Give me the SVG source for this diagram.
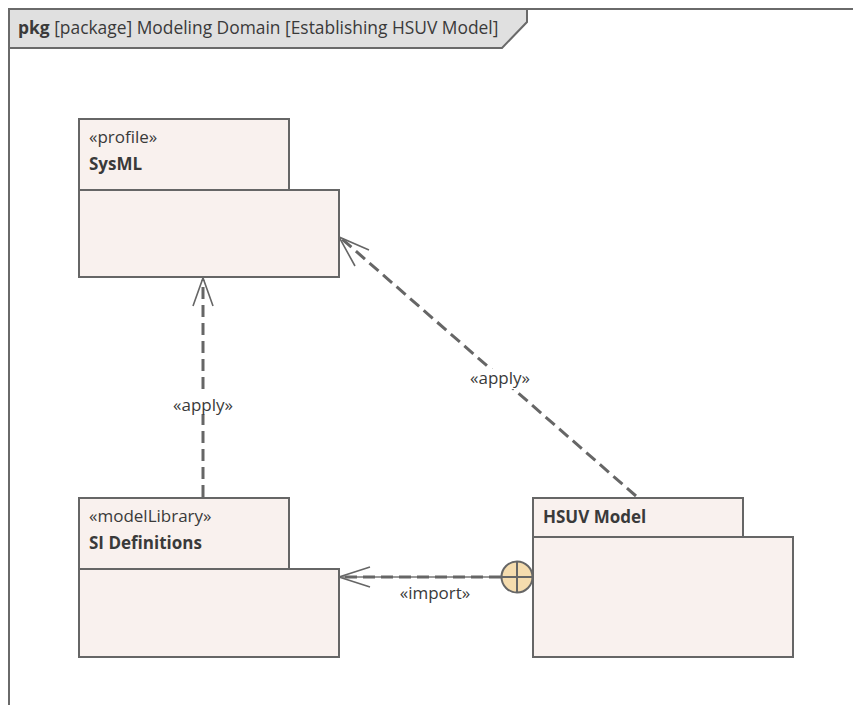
<svg xmlns="http://www.w3.org/2000/svg" width="853" height="705" viewBox="0 0 853 705">
<style>
.frame{fill:none;stroke:#6a6a6a;stroke-width:2}
.tab{fill:#e0e0e0;stroke:#6a6a6a;stroke-width:2}
.pk{fill:#f9f1ee;stroke:#666;stroke-width:2}
.t{font-family:"Open Sans","Noto Sans",sans-serif;font-size:17px;fill:#3a3a3a}
.hd{font-size:17.4px}
.b{font-weight:bold}
.dash{fill:none;stroke:#666;stroke-width:3;stroke-dasharray:12 6}
.thin{fill:none;stroke:#777;stroke-width:1.3}
.head{fill:none;stroke:#666;stroke-width:1.6}
.bg{fill:#ffffff}
</style>
<rect width="853" height="705" fill="#ffffff"/>
<g id="frame">
<path class="frame" d="M9,705 V9 H853"/>
<polygon class="tab" points="9,9 527,9 527,22 502,48 9,48"/>
<text class="t hd" x="18" y="34"><tspan class="b">pkg</tspan> [package] Modeling Domain [Establishing HSUV Model]</text>
</g>
<g id="connectors">
<g id="apply1">
<line class="dash" x1="203" y1="497" x2="203" y2="280"/>
<path class="head" d="M193,306 L203,278 L213,306"/>
<rect class="bg" x="172" y="393" width="62" height="21"/>
<text class="t" x="203" y="411" text-anchor="middle">«apply»</text>
</g>
<g id="apply2">
<line class="dash" x1="636" y1="496" x2="342" y2="239"/>
<path class="head" d="M369,250 L339,237 L355,266"/>
<rect class="bg" x="470" y="369" width="62" height="20"/>
<text class="t" x="500" y="384" text-anchor="middle">«apply»</text>
</g>
<g id="import">
<line class="thin" x1="501" y1="577" x2="340" y2="577"/>
<line class="dash" x1="501" y1="577" x2="342" y2="577"/>
<path class="head" d="M370,567 L339,577 L370,587"/>
<text class="t" x="435" y="599" text-anchor="middle">«import»</text>
<circle cx="517" cy="577" r="15.5" fill="#f5dcae" stroke="#666" stroke-width="2"/>
<path d="M501.5,577 H532.5 M517,561.5 V592.5" stroke="#666" stroke-width="2" fill="none"/>
</g>
</g>
<g id="sysml">
<rect class="pk" x="79" y="119" width="210" height="71"/>
<rect class="pk" x="79" y="190" width="260" height="87"/>
<text class="t" x="89" y="143">«profile»</text>
<text class="t b" x="89" y="170">SysML</text>
</g>
<g id="sidefs">
<rect class="pk" x="79" y="498" width="210" height="71"/>
<rect class="pk" x="79" y="569" width="260" height="88"/>
<text class="t" x="89" y="522">«modelLibrary»</text>
<text class="t b" x="89" y="549">SI Definitions</text>
</g>
<g id="hsuv">
<rect class="pk" x="533" y="498" width="210" height="39"/>
<rect class="pk" x="533" y="537" width="260" height="120"/>
<text class="t b" x="543" y="523">HSUV Model</text>
</g>
</svg>
